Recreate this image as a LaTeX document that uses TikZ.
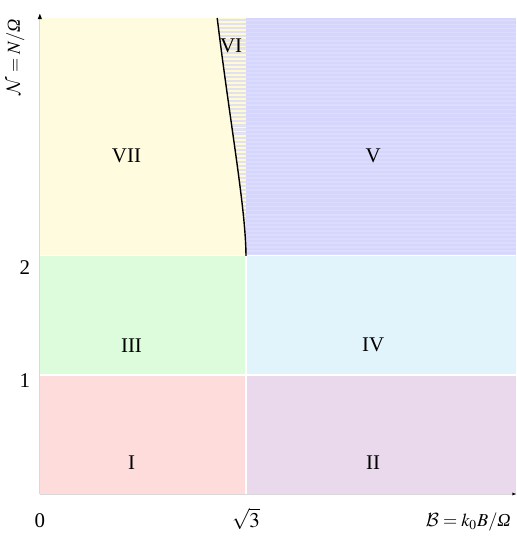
\documentclass[tikz,border=0pt]{standalone}
\usepackage{amsmath}
\usepackage{mathptmx}
\DeclareMathAlphabet{\mathcal}{OMS}{cmsy}{m}{n}
\usepackage{fontspec}
\setmainfont{Liberation Serif}
\newcommand{\itOmega}{\mbox{\itshape Ω}}
\definecolor{cI}{HTML}{FFDCDC}
\definecolor{cII}{HTML}{EAD9EC}
\definecolor{cIII}{HTML}{DCFCDC}
\definecolor{cIV}{HTML}{E2F4FB}
\definecolor{cVII}{HTML}{FFFBDF}
\definecolor{cV}{HTML}{D6D6FD}
\definecolor{cVs}{HTML}{DCDCFE}
\definecolor{cVI}{HTML}{FFF9D6}
\definecolor{cVIs}{HTML}{E2E2EE}
\tikzset{
  reglabel/.style={font=\fontsize{12}{14}\selectfont, inner sep=0pt},
  ticklabel/.style={font=\fontsize{12}{14}\selectfont, inner sep=0pt},
  axlabel/.style={font=\fontsize{10.5}{12}\selectfont, inner sep=0pt},
  axisline/.style={draw=black!15, line width=0.5pt},
  sep/.style={draw=white, line width=0.6pt}
}
\begin{document}
\begin{tikzpicture}[x=2.4cm,y=2.4cm]
\useasboundingbox (-0.335,-0.353) rectangle (4.008,4.151);
% regions
\fill[cI] (0,0) rectangle (1.732,1);
\fill[cII] (1.732,0) rectangle (4,1);
\fill[cIII] (0,1) rectangle (1.732,2);
\fill[cIV] (1.732,1) rectangle (4,2);
\fill[cVII] (0,2) rectangle (1.732,4);
\fill[cV] (1.732,2) rectangle (4,4);
\begin{scope}
\clip (1.732,2) rectangle (4,4);
\foreach \k in {0,...,58} {
  \fill[cVs] (1.732,2+\k*0.034) rectangle (4,2+\k*0.034+0.015);
}
\end{scope}
% region VI
\begin{scope}
\clip (1.49,4) .. controls (1.60,3.1) and (1.73,2.4) .. (1.732,2) -- (1.732,4) -- cycle;
\fill[cVI] (1.4,2) rectangle (1.732,4);
\foreach \k in {0,...,58} {
  \fill[cVIs] (1.4,2+\k*0.034) rectangle (1.732,2+\k*0.034+0.018);
}
\end{scope}
% separators
\draw[sep] (0,1) -- (4,1);
\draw[sep] (0,2) -- (4,2);
\draw[sep] (1.732,0) -- (1.732,2);
% boundary curve
\coordinate (ctop) at (1.49,4);
\coordinate (cbot) at (1.732,2);
\draw[black, line width=0.8pt] (ctop) .. controls (1.60,3.1) and (1.73,2.4) .. (cbot);
% axes
\coordinate (O) at (0,0);
\coordinate (ytop) at (0,4.035);
\coordinate (xend) at (4.0,0);
\draw[axisline] (O) -- (ytop);
\draw[axisline] (O) -- (xend);
\fill[black] (ytop) -- ++(-0.018,-0.045) -- ++(0.036,0) -- cycle;
\fill[black] (xend) -- ++(-0.03,-0.012) -- ++(0,0.024) -- cycle;
% region labels
\node[reglabel] (lVII) at (0.728,2.84) {VII};
\node[reglabel] (lV) at (2.80,2.84) {V};
\node[reglabel] (lVI) at (1.607,3.77) {VI};
\node[reglabel] (lIII) at (0.77,1.25) {III};
\node[reglabel] (lIV) at (2.80,1.25) {IV};
\node[reglabel] (lI) at (0.77,0.26) {I};
\node[reglabel] (lII) at (2.80,0.26) {II};
% ticks
\node[ticklabel] (t2) at (-0.126,1.90) {2};
\node[ticklabel] (t1) at (-0.126,0.95) {1};
\node[ticklabel] (t0) at (0,-0.22) {0};
\node[ticklabel] (ts3) at (1.732,-0.21) {$\sqrt{3}$};
\node[axlabel] (xl) at (3.60,-0.235) {$\mathcal{B} = k_0 B/\itOmega$};
\node[axlabel, rotate=90] (yl) at (-0.205,3.67) {$\mathcal{N} = N/\itOmega$};
\end{tikzpicture}
\end{document}
